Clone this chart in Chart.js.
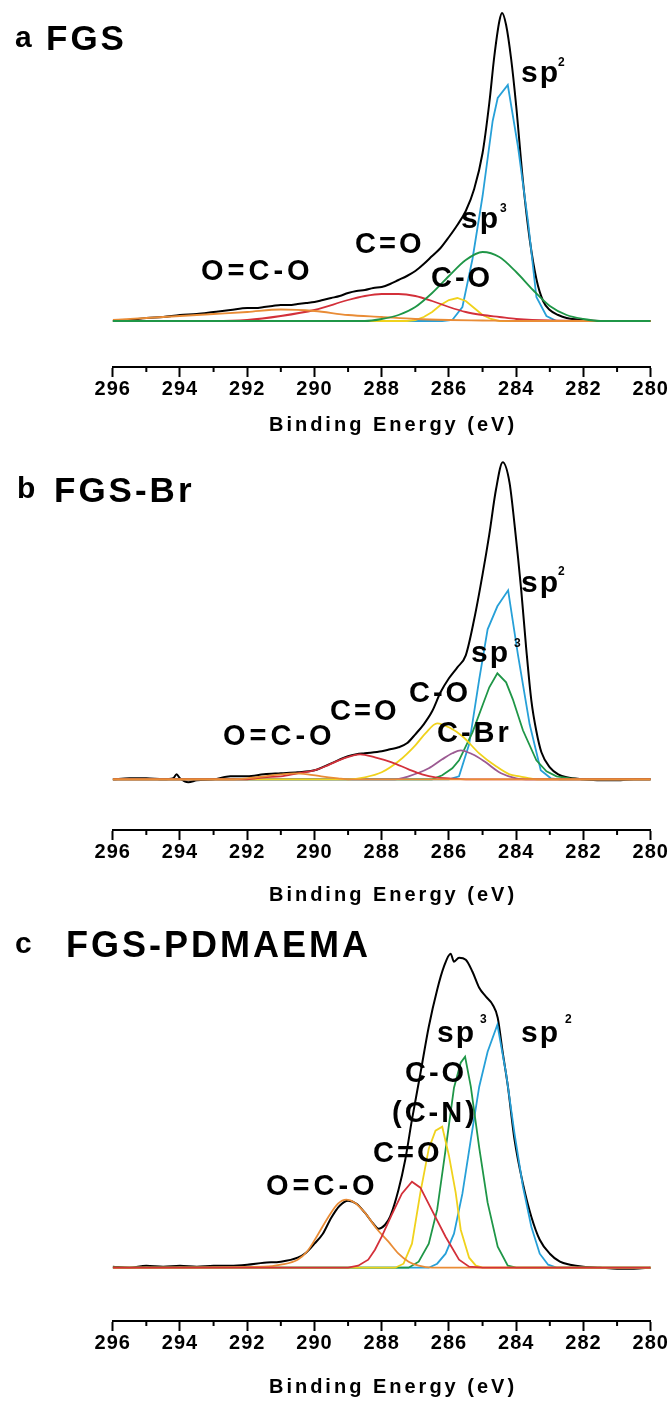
<!DOCTYPE html>
<html><head><meta charset="utf-8">
<script src="https://cdn.jsdelivr.net/npm/chart.js@4.4.1/dist/chart.umd.min.js"></script>
<style>
html,body{margin:0;padding:0;background:#fff;}
body{width:670px;height:1401px;position:relative;overflow:hidden;}
canvas{position:absolute;left:0;}
</style></head><body>
<canvas id="ca" width="670" height="440" style="top:0px"></canvas>
<canvas id="cb" width="670" height="470" style="top:440px"></canvas>
<canvas id="cc" width="670" height="491" style="top:910px"></canvas>
<script>
// ---------- shared axis data ----------
const tickValues = [296, 294, 292, 290, 288, 286, 284, 282, 280];
const minorTickValues = [295, 293, 291, 289, 287, 285, 283, 281];
const xTitle = 'Binding Energy (eV)';

// ---------- panel a : FGS ----------
const aTotalE = [296,295.5,295,294.5,294,293.5,293,292.5,292,291.75,291.5,291.25,291,290.75,290.5,290.25,290,289.75,289.5,289.25,289,288.75,288.5,288.25,288,287.75,287.5,287.25,287,286.75,286.5,286.25,286,285.75,285.5,285.25,285,284.8,284.65,284.5,284.42,284.3,284.15,284,283.8,283.6,283.4,283.2,283,282.75,282.5,282,281.5,281,280.5,280];
const aTotalI = [0,1,3,4,6,7,9,11,13,13,14,15,16,16,17,18,19,21,23,25,28,30,31,33,34,37,41,45,50,57,65,73,84,96,110,132,168,218,265,300,308,296,262,215,140,82,42,20,11,6,3,1,0,0,0,0];
const aSp2E = [296,286.2,285.9,285.6,285.3,285.0,284.7,284.55,284.25,283.95,283.65,283.4,283.1,282.8,280];
const aSp2I = [0,0,1,14,62,125,200,223,236,175,100,24,5,0,0];
const aSp3E = [296,288.5,288,287.5,287,286.5,286,285.5,285,284.5,284,283.5,283,282.5,282,281.5,280];
const aSp3I = [0,0,2,6,14,28,45,61,69,64,49,31,15,6,2,0,0];
const aCOE = [296,287.25,287,286.75,286.5,286.25,286,285.75,285.5,285.25,285,284.75,284.5,280];
const aCOI = [0,0,1,4,9,16,21,23,20,13,6,2,0,0];
const aCdOE = [296,293,292,291,290,289,288.5,288,287.5,287,286.5,286,285.5,285,284.5,284,283,280];
const aCdOI = [0,0,1,5,11,21,25,27,27,25,20,14,9,6,4,2,0.5,0];
const aOCOE = [296,295,294,293,292,291,290,289,288,287,286,285,284,280];
const aOCOI = [1,3,5,7,9,11.5,10,6,4,2,1,0.5,0,0];

// ---------- panel b : FGS-Br ----------
const bTotalE = [296,295.5,295,294.5,294.2,294.1,294,293.75,293.5,293,292.5,292,291.5,291,290.5,290,289.5,289,288.75,288.5,288,287.75,287.5,287.25,287,286.75,286.5,286.25,286,285.75,285.5,285.25,285,284.8,284.6,284.4,284.2,284.05,283.85,283.7,283.55,283.4,283.25,283,282.75,282.5,282,281.5,281,280.5,280];
const bTotalI = [0,1,1,0,1,5,1,-3,-1,0,3,3,5,6,7,9,16,23,25,26,28,30,32,36,45,55,68,87,101,112,124,160,205,245,290,317,297,255,189,130,79,48,27,12,5,2,0,-1,-1,0,0];
const bSp2E = [296,286,285.7,285.4,285.1,284.85,284.56,284.24,283.95,283.6,283.27,282.97,282.7,280];
const bSp2I = [0,0,3,35,100,150,173,189,125,55,9,1,0,0];
const bSp3E = [296,286.5,286.2,285.9,285.7,285.3,285,284.8,284.56,284.3,284.1,283.8,283.4,283.1,282.8,282.4,282,280];
const bSp3I = [0,0,4,11,19,47,74,92,106,97,80,49,19,8,3,1,0,0];
const bCOE = [296,289,288.5,288,287.5,287,286.7,286.35,286,285.6,285.1,284.6,284.2,283.9,283.4,280];
const bCOI = [0,0,2,7,18,34,46,56,52,43,26,13,5,3,0,0];
const bCBrE = [296,287.6,287.2,286.6,286.2,285.9,285.65,285.3,284.95,284.45,284,283.6,280];
const bCBrI = [0,0,3,11,20,26,29,25,18,6,1,0,0];
const bCdOE = [296,292,291.5,291,290.5,290,289.6,289.2,288.64,288.2,287.7,287.2,286.8,286.4,286,285.5,280];
const bCdOI = [0,0,2,3,6,9,14,20,25,22,17,10,5,2,1,0,0];
const bOCOE = [296,292.5,292,291.5,291,290.6,290.2,289.8,289.3,289,280];
const bOCOI = [0,0,1,3,5,6,5,3,1,0,0];

// ---------- panel c : FGS-PDMAEMA ----------
const cTotalE = [296,295.5,295,294.5,294,293.5,293,292.5,292,291.5,291,290.5,290.25,290,289.75,289.5,289.25,289,288.75,288.5,288.25,288.1,287.9,287.75,287.5,287.3,287.1,286.85,286.6,286.35,286.15,285.95,285.85,285.7,285.5,285.3,285.1,284.9,284.7,284.55,284.4,284.25,284.05,283.8,283.55,283.3,283,282.7,282.4,282,281.5,281,280.5,280];
const cTotalI = [1,0,2,1,2,1,2,2,3,5,6,10,15,24,34,50,62,67,64,55,44,39,43,51,78,108,148,194,241,278,301,314,306,310,308,296,280,271,263,250,215,182,128,84,51,28,14,6,3,1,0,-1,-1,0];
const cSp2E = [296,286.6,286.35,286.1,285.85,285.6,285.35,285.1,284.85,284.56,284.3,284.05,283.8,283.55,283.3,283.05,282.8,280];
const cSp2I = [0,0,4,14,34,74,128,181,216,243,194,134,81,41,14,3,0,0];
const cSp3E = [296,287.2,286.9,286.6,286.35,286.1,285.85,285.65,285.52,285.35,285.1,284.85,284.55,284.25,284,280];
const cSp3I = [0,0,6,24,58,118,180,205,211,181,120,65,21,2,0,0];
const cCOE = [296,287.6,287.35,287.1,286.85,286.6,286.4,286.2,286.0,285.8,285.65,285.4,285.2,285,280];
const cCOI = [0,0,4,24,75,119,137,141,112,75,38,10,2,0,0];
const cCdOE = [296,289,288.7,288.4,288.2,288,287.7,287.4,287.1,286.85,286.5,286.1,285.7,285.4,285,280];
const cCdOI = [0,0,2,8,18,31,53,74,86,80,57,31,8,1,0,0];
const cOCOE = [296,291.5,291,290.5,290.2,289.9,289.6,289.3,289.05,288.8,288.5,288.15,287.8,287.5,287.2,286.9,286.5,280];
const cOCOI = [0,1,3,8,17,33,50,64,68,65,55,39,26,14,6,2,0,0];

// ---------- styles ----------
const FONT = '"Liberation Sans", Arial, Helvetica, sans-serif';
const COL = {
  total: '#000000', sp2: '#27a0d8', sp3: '#1f9647', co: '#f0d21c',
  cdo: '#d3303a', oco: '#e98c36', cbr: '#9c5a92'
};

function pts(E, I) { return E.map((e, i) => ({ x: e, y: I[i] })); }
function ds(E, I, color, width, smooth) {
  return {
    data: pts(E, I), borderColor: color, borderWidth: width, pointRadius: 0,
    fill: false, tension: smooth ? 0.4 : 0,
    cubicInterpolationMode: smooth ? 'monotone' : 'default'
  };
}

const textPlugin = {
  id: 'panelText',
  beforeDraw(chart) { chart.ctx.letterSpacing = '1px'; },
  afterDraw(chart, args, opts) {
    const ctx = chart.ctx;
    const xs = chart.scales.x;
    const y0 = chart.chartArea.bottom;
    ctx.save();
    ctx.strokeStyle = '#000'; ctx.lineWidth = 2;
    for (const v of minorTickValues) {
      const px = xs.getPixelForValue(v);
      ctx.beginPath(); ctx.moveTo(px, y0); ctx.lineTo(px, y0 + 5); ctx.stroke();
    }
    ctx.fillStyle = '#000'; ctx.textAlign = 'left'; ctx.textBaseline = 'alphabetic';
    for (const t of opts.texts) {
      ctx.font = 'bold ' + t[3] + 'px ' + FONT;
      ctx.letterSpacing = (t[4] || 0) + 'px';
      ctx.textAlign = t[5] || 'left';
      ctx.fillText(t[0], t[1], t[2] - opts.top);
    }
    ctx.restore();
  }
};

function makeChart(id, top, yMin, yMax, scaleH, datasets, texts) {
  return new Chart(document.getElementById(id), {
    type: 'line',
    data: { datasets },
    plugins: [textPlugin],
    options: {
      responsive: false, maintainAspectRatio: false, devicePixelRatio: 1,
      animation: false, events: [],
      layout: { padding: { left: 112.7, right: 19.3, top: 0, bottom: 0 } },
      plugins: { legend: { display: false }, tooltip: { enabled: false },
        panelText: { top, texts } },
      scales: {
        x: {
          type: 'linear', min: 280, max: 296, reverse: true,
          afterBuildTicks: (s) => { s.ticks = tickValues.map(v => ({ value: v })); },
          afterFit: (s) => { s.height = scaleH; },
          border: { display: true, color: '#000', width: 2 },
          grid: { drawOnChartArea: false, drawTicks: true, tickLength: 10, tickWidth: 2, tickColor: '#000' },
          ticks: { color: '#000', font: { family: FONT, size: 20, weight: 'bold' },
            padding: 0, maxRotation: 0, autoSkip: false, callback: (v) => String(v) }
        },
        y: { display: false, min: yMin, max: yMax }
      }
    }
  });
}

// panel a
makeChart('ca', 0, -46, 321, 73, [
  ds(aSp3E, aSp3I, COL.sp3, 1.8, true),
  ds(aOCOE, aOCOI, COL.oco, 1.8, true),
  ds(aCdOE, aCdOI, COL.cdo, 1.8, true),
  ds(aCOE, aCOI, COL.co, 1.8, false),
  ds(aSp2E, aSp2I, COL.sp2, 1.8, false),
  ds(aTotalE, aTotalI, COL.total, 2, true)
], [
  ['a', 15, 47, 30, 0], ['FGS', 46, 50, 35, 3],
  ['sp', 521, 82, 30, 2], ['2', 558, 66, 12, 0],
  ['sp', 461, 228, 30, 2], ['3', 500, 212, 12, 0],
  ['C=O', 355, 253, 29, 3], ['O=C-O', 201, 280, 29, 4], ['C-O', 431, 287, 29, 3],
  [xTitle, 393, 431, 20, 3, 'center']
]);

// panel b
makeChart('cb', 440, -50.7, 339.3, 80, [
  ds(bOCOE, bOCOI, COL.oco, 1.8, true),
  ds(bCdOE, bCdOI, COL.cdo, 1.8, true),
  ds(bCOE, bCOI, COL.co, 1.8, true),
  ds(bCBrE, bCBrI, COL.cbr, 1.8, true),
  ds(bSp3E, bSp3I, COL.sp3, 1.8, false),
  ds(bSp2E, bSp2I, COL.sp2, 1.8, false),
  ds(bTotalE, bTotalI, COL.total, 2, true)
], [
  ['b', 17, 498, 30, 0], ['FGS-Br', 54, 502, 35, 3],
  ['sp', 521, 592, 30, 2], ['2', 558, 575, 12, 0],
  ['sp', 471, 662, 30, 2], ['3', 514, 647, 12, 0],
  ['C-O', 409, 702, 29, 3], ['C=O', 330, 720, 29, 3],
  ['O=C-O', 223, 745, 29, 4], ['C-Br', 437, 742, 29, 3],
  [xTitle, 393, 901, 20, 3, 'center']
]);

// panel c
makeChart('cc', 910, -53.3, 357.7, 80, [
  ds(cCdOE, cCdOI, COL.cdo, 1.8, false),
  ds(cOCOE, cOCOI, COL.oco, 1.8, true),
  ds(cCOE, cCOI, COL.co, 1.8, false),
  ds(cSp3E, cSp3I, COL.sp3, 1.8, false),
  ds(cSp2E, cSp2I, COL.sp2, 1.8, false),
  ds(cTotalE, cTotalI, COL.total, 2, true)
], [
  ['c', 15, 953, 30, 0], ['FGS-PDMAEMA', 66, 957, 36, 3],
  ['sp', 437, 1042, 30, 2], ['3', 480, 1023, 12, 0],
  ['sp', 521, 1042, 30, 2], ['2', 565, 1023, 12, 0],
  ['C-O', 405, 1082, 29, 3], ['(C-N)', 392, 1122, 29, 3],
  ['C=O', 373, 1162, 29, 3], ['O=C-O', 266, 1195, 29, 4],
  [xTitle, 393, 1393, 20, 3, 'center']
]);
</script>
</body></html>
